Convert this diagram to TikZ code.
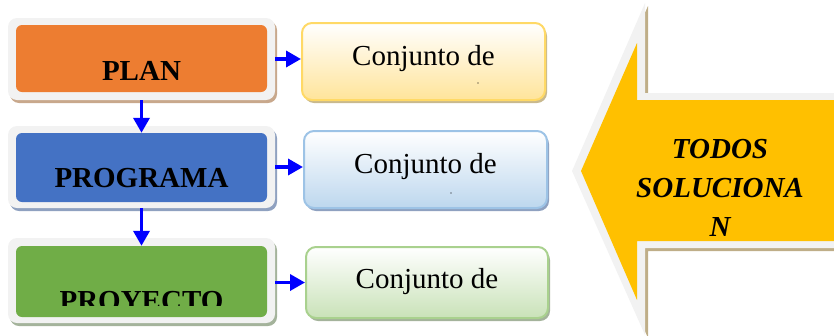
\documentclass[tikz,border=0pt]{standalone}
\usepackage{fontspec}
\setmainfont{Liberation Serif}
\usetikzlibrary{arrows.meta,shadows}
\definecolor{ink}{HTML}{000000}
\definecolor{cblue}{HTML}{0000FF}
\definecolor{frame}{HTML}{F2F2F2}
\definecolor{corange}{HTML}{ED7D31}
\definecolor{cmid}{HTML}{4472C4}
\definecolor{cgreen}{HTML}{70AD47}
\definecolor{sorange}{HTML}{C8A88C}
\definecolor{sblue}{HTML}{8FA1C0}
\definecolor{sgreen}{HTML}{A4B39B}
\definecolor{byellow}{HTML}{FFD966}
\definecolor{lyellow}{HTML}{FFE49A}
\definecolor{syellow}{HTML}{C9B98E}
\definecolor{bblue}{HTML}{9DC3E6}
\definecolor{lblue}{HTML}{BDD7EE}
\definecolor{bgreen}{HTML}{A9D18E}
\definecolor{lgreen}{HTML}{C9E2B8}
\definecolor{cgold}{HTML}{FFC000}
\definecolor{stan}{HTML}{BFAE88}
\tikzset{
  >={Triangle[length=15pt,width=16pt]},
  frm/.style={fill=frame,rounded corners=9pt,minimum width=267pt,inner sep=0pt},
  inr/.style={rounded corners=6pt,minimum width=251pt,inner sep=0pt},
  cbox/.style={line width=2pt,rounded corners=10pt,minimum height=77pt,inner sep=0pt,top color=white},
  ttl/.style={font=\fontsize{29}{35}\selectfont\bfseries,text=ink,anchor=base,inner sep=0pt},
  txt/.style={font=\fontsize{29}{35}\selectfont,text=ink,anchor=base,inner sep=0pt},
  arr/.style={->,draw=cblue,line width=3.5pt},
  shd/.style={general shadow={fill=#1,shadow xshift=2pt,shadow yshift=-3pt}},
}
\begin{document}
\begin{tikzpicture}[x=1pt,y=-1pt]
  \useasboundingbox (0,0) rectangle (834,335);
  % big arrow on the right
  \fill[stan] (575,171) -- (648,6) -- (648,96) -- (840,96) -- (840,251) -- (648,251) -- (648,338) -- cycle;
  \fill[frame] (572,171) -- (645,3) -- (645,93) -- (840,93) -- (840,248) -- (645,248) -- (645,335) -- cycle;
  \fill[cgold] (581,171) -- (637,43) -- (637,100) -- (840,100) -- (840,241) -- (637,241) -- (637,300) -- cycle;
  \node[ttl,font=\fontsize{29}{39}\selectfont\bfseries\itshape,align=center] (todos) at (720,236) {TODOS\\SOLUCIONA\\N};
  % left column
  \node[frm,shd=sorange,minimum height=82pt] (planf) at (141.5,59) {};
  \node[inr,fill=corange,minimum height=67pt] (plani) at (141.5,58.5) {};
  \node[ttl] (plant) at (141.5,80) {PLAN};
  \node[frm,shd=sblue,minimum height=82pt] (progf) at (141.5,167) {};
  \node[inr,fill=cmid,minimum height=69pt] (progi) at (141.5,167.5) {};
  \node[ttl] (progt) at (141.5,187) {PROGRAMA};
  \node[frm,shd=sgreen,minimum height=85pt] (proyf) at (141.5,280.5) {};
  \node[inr,fill=cgreen,minimum height=71pt] (proyi) at (141.5,281.5) {};
  \begin{scope}
    \clip (16,246) rectangle (267,305);
    \node[ttl] (proyt) at (141.5,310) {PROYECTO};
  \end{scope}
  % right column
  \node[cbox,shd=syellow,draw=byellow,bottom color=lyellow,minimum width=243pt] (conja) at (423.5,61.5) {};
  \node[txt] (conjat) at (423.5,65) {Conjunto de};
  \node[cbox,shd=sblue,draw=bblue,bottom color=lblue,minimum width=243pt] (conjb) at (425.5,169.5) {};
  \node[txt] (conjbt) at (425.5,173) {Conjunto de};
  \node[cbox,shd=sgreen,draw=bgreen,bottom color=lgreen,minimum width=242pt,minimum height=71pt] (conjc) at (427,282.5) {};
  \node[txt] (conjct) at (427,288) {Conjunto de};
  \fill[ink] (478,83) circle (0.7);
  \fill[ink] (451,193) circle (0.7);
  % connectors
  \draw[arr] (planf.south) -- (progi.north);
  \draw[arr] (progf.south) -- (proyi.north);
  \draw[arr] (planf.east) -- (planf.east -| conja.west);
  \draw[arr] (progf.east) -- (progf.east -| conjb.west);
  \draw[arr] ([yshift=-2pt]proyf.east) -- ([yshift=-2pt]proyf.east -| conjc.west);
\end{tikzpicture}
\end{document}
